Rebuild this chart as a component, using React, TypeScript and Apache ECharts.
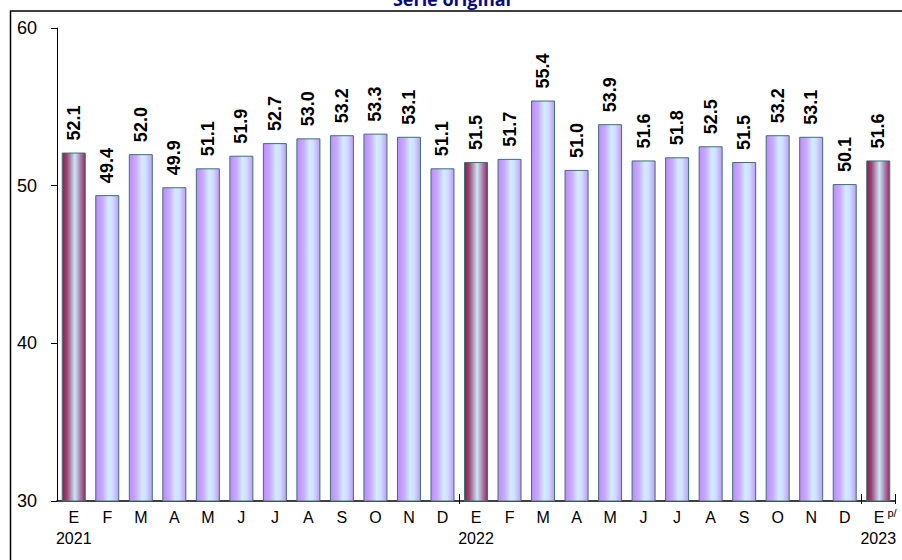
import React, { useEffect, useRef } from "react";
import * as echarts from "echarts";

const months = ["E","F","M","A","M","J","J","A","S","O","N","D","E","F","M","A","M","J","J","A","S","O","N","D","E"];
const years: Record<number, string> = { 0: "2021", 12: "2022", 24: "2023" };
const values = [52.1, 49.4, 52.0, 49.9, 51.1, 51.9, 52.7, 53.0, 53.2, 53.3, 53.1, 51.1, 51.5, 51.7, 55.4, 51.0, 53.9, 51.6, 51.8, 52.5, 51.5, 53.2, 53.1, 50.1, 51.6];
const yTicks = { min: 30, max: 60, interval: 10 };
const title = "Serie original";

const purple = new echarts.graphic.LinearGradient(0, 0, 1, 0, [
  { offset: 0, color: "#bd8cfb" },
  { offset: 0.3, color: "#c9acfc" },
  { offset: 0.55, color: "#d3ebff" },
  { offset: 0.72, color: "#cfe0ff" },
  { offset: 1, color: "#c299f9" },
]);
const maroon = new echarts.graphic.LinearGradient(0, 0, 1, 0, [
  { offset: 0, color: "#8a1f52" },
  { offset: 0.2, color: "#9a4474" },
  { offset: 0.55, color: "#cbe6f6" },
  { offset: 0.8, color: "#a77aa8" },
  { offset: 1, color: "#8e2c5e" },
]);

export default function App() {
  const ref = useRef<HTMLDivElement>(null);
  useEffect(() => {
    const chart = echarts.init(ref.current!, null, { renderer: "svg" });
    const sepTicks = (i: number) => i === 12 || i === 24;
    chart.setOption({
      animation: false,
      backgroundColor: "#ffffff",
      textStyle: { fontFamily: "Arial, Liberation Sans, sans-serif" },
      graphic: [
        {
          type: "rect",
          shape: { x: 10.5, y: 11, width: 900, height: 560 },
          style: { fill: "none", stroke: "#000", lineWidth: 1.5 },
          silent: true,
        },
        {
          type: "text",
          x: 452,
          y: 8,
          style: {
            text: title,
            fill: "#0a0a80",
            font: "bold 18px 'Open Sans', 'Noto Sans', sans-serif",
            align: "center",
            verticalAlign: "bottom",
          },
          z: 10,
        },
      ],
      grid: { left: 57, right: 7, top: 28, bottom: 59 },
      xAxis: [
        {
          type: "category",
          data: months,
          axisLine: { show: true, lineStyle: { color: "#000", width: 1.5 } },
          axisTick: { show: true, interval: sepTicks, length: 3, lineStyle: { color: "#000" } },
          axisLabel: {
            interval: 0,
            margin: 6,
            color: "#000",
            formatter: (v: string, i: number) => {
              const y = years[i];
              const m = i === 24 ? "{m2|" + v + "}{p|p/}" : "{m|" + v + "}";
              return y ? m + "\n{y|" + y + "}" : m;
            },
            rich: {
              m: { fontSize: 16, fontFamily: "Arial, Liberation Sans", color: "#000", lineHeight: 21 },
              m2: { fontSize: 16, fontFamily: "Arial, Liberation Sans", color: "#000", lineHeight: 21, padding: [0, 0, 0, 14] },
              p: { fontSize: 11, fontFamily: "Arial, Liberation Sans", color: "#000", verticalAlign: "top", padding: [0, 0, 6, 3] },
              y: { fontSize: 16, fontFamily: "Arial, Liberation Sans", color: "#000", lineHeight: 21 },
            },
          },
          splitLine: { show: false },
        },
        {
          type: "category",
          data: months,
          position: "bottom",
          axisLine: { show: false },
          axisTick: { show: true, inside: true, interval: sepTicks, length: 7, lineStyle: { color: "#000" } },
          axisLabel: { show: false },
          splitLine: { show: false },
        },
      ],
      yAxis: {
        type: "value",
        min: yTicks.min,
        max: yTicks.max,
        interval: yTicks.interval,
        axisLine: { show: true, lineStyle: { color: "#000", width: 1 } },
        axisTick: { show: true, length: 6, lineStyle: { color: "#000" } },
        axisLabel: { margin: 20, color: "#000", fontSize: 18, fontFamily: "Arial, Liberation Sans" },
        splitLine: { show: false },
      },
      series: [
        {
          type: "bar",
          xAxisIndex: 0,
          barWidth: 24,
          data: values.map((v, i) => ({
            value: v,
            itemStyle: { color: months[i] === "E" ? maroon : purple },
          })),
          itemStyle: { borderColor: "#3d7272", borderWidth: 1 },
          label: {
            show: true,
            position: "top",
            distance: 8,
            offset: [4, 0],
            rotate: 90,
            align: "left",
            verticalAlign: "middle",
            formatter: (p: any) => p.value.toFixed(1),
            fontSize: 18,
            fontWeight: "bold",
            color: "#000",
            fontFamily: "Arial, Liberation Sans",
          },
        },
      ],
    });
    return () => chart.dispose();
  }, []);
  return (
    <div
      ref={ref}
      style={{ position: "fixed", left: 0, top: 0, width: 902, height: 560 }}
    />
  );
}
